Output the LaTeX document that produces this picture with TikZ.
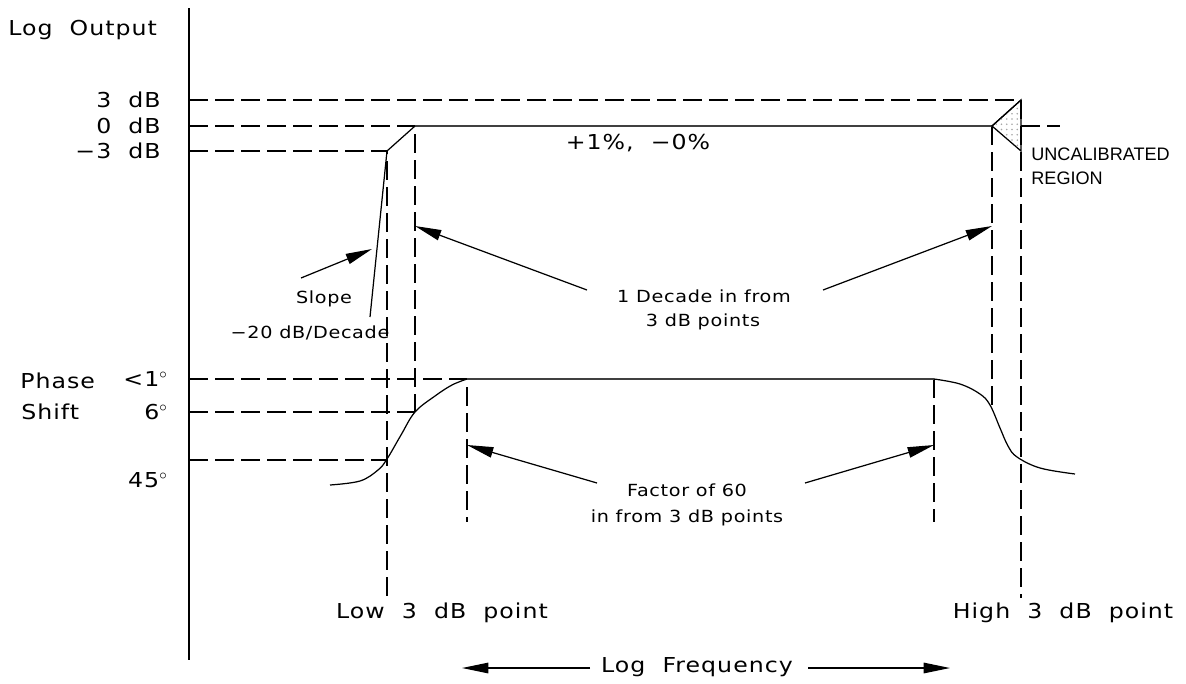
\documentclass[tikz,border=0pt]{standalone}
\usepackage{fontspec}
\newfontfamily\cadfont[FakeStretch=1.15,LetterSpace=5]{DejaVu Sans}
\newfontfamily\cadsmall[FakeStretch=1.15,LetterSpace=4]{DejaVu Sans}
\newfontfamily\notefont{Liberation Sans}
\usetikzlibrary{arrows.meta,patterns}
\tikzset {>={Triangle[length=15pt,width=6pt]}}
\newcommand*{\dg}{$^\circ$}

\begin{document}
\begin{tikzpicture}[x=0.02cm,y=-0.02cm,
  dline/.style={line width=1.3pt,dash pattern=on 10.8pt off 4pt},
  thinline/.style={line width=0.7pt},
  lbl/.style={font=\cadfont\fontsize{11.7}{14}\selectfont,inner sep=0pt},
  small/.style={font=\cadsmall\fontsize{9.5}{11}\selectfont,inner sep=0pt},
  note/.style={font=\notefont\fontsize{10.3}{12}\selectfont,inner sep=0pt,anchor=west}]
\useasboundingbox (0,0) rectangle (1186,683);
% axis
\draw[line width=1.6pt] (189,8) -- (189,660);
% corner points of the response
\coordinate (Lm3) at (387,151);
\coordinate (L0) at (415,126);
\coordinate (H0) at (992,126);
\coordinate (H3) at (1021,100);
\coordinate (Hm3) at (1021,151);
\coordinate (Pl) at (467,379);
\coordinate (Ph) at (934,379);
% level lines
\draw[dline] (189,100) -- (H3) -- (1021,598);
\draw[dline] (189,126) -- (L0) -- (415,412);
\draw[dline] (189,151) -- (Lm3) -- (387,596);
\draw[dline] (H0) -- (992,410);
\draw[dline] (1021,126) -- (1060,126);
\draw[dline] (189,379) -- (Pl) -- (467,522);
\draw[dline] (Ph) -- (934,522);
\draw[dline] (189,412) -- (415,412);
\draw[dline] (189,460) -- (387,460);
% log output
\draw[line width=0.9pt,black!75] (L0) -- (H0);
\draw[thinline] (Lm3) -- (L0) (H0) -- (H3);
\filldraw[thinline,pattern=dots,pattern color=gray!70] (H0) -- (H3) -- (Hm3) -- cycle;
\draw[thinline] (Lm3) -- (370,317);
% phase shift
\draw[thinline] plot[smooth,tension=0.6] coordinates {(330,485) (360,481) (378,470) (387,459) (401,435) (415,412) (435,396) (452,385) (Pl)};
\draw[line width=0.9pt,black!75] (Pl) -- (Ph);
\draw[thinline] plot[smooth,tension=0.6] coordinates {(Ph) (960,384) (980,394) (990,405) (1000,428) (1008,446) (1017,457) (1040,468) (1075,474)};
% labels
\node[lbl,anchor=west] (out) at (8,30) {Log\ \ Output};
\node[lbl,anchor=east] (db3) at (161,100) {3\ \ dB};
\node[lbl,anchor=east] (db0) at (161,126) {0\ \ dB};
\node[lbl,anchor=east] (dbm3) at (161,151) {−3\ \ dB};
\node[lbl] (tol) at (638,143) {+1\%,\ \ −0\%};
\node[note] (unc) at (1031,154) {UNCALIBRATED};
\node[note] (reg) at (1031,178) {REGION};
\node[lbl,anchor=west] (ph) at (20,381) {Phase};
\node[lbl,anchor=west] (sh) at (21,412) {Shift};
\node[lbl,anchor=east] (p1) at (168,379) {<1\dg};
\node[lbl,anchor=east] (p6) at (168,412) {6\dg};
\node[lbl,anchor=east] (p45) at (168,480) {45\dg};
\node[small] (slope) at (324,299) {Slope};
\node[small] (rate) at (310,333) {−20 dB/Decade};
\node[small] (dec) at (704,296) {1 Decade in from};
\node[small] (decb) at (703,322) {3 dB points};
\node[small] (fac) at (687,490) {Factor of 60};
\node[small] (facb) at (687,518) {in from 3 dB points};
\node[lbl] (low) at (442,613) {Low\ \ 3\ \ dB\ \ point};
\node[lbl] (high) at (1063,613) {High\ \ 3\ \ dB\ \ point};
\node[lbl] (freq) at (697,667) {Log\ \ Frequency};
% pointers
\coordinate (sT) at (301,278);
\coordinate (dL) at (587,290);
\coordinate (dR) at (823,290);
\coordinate (fL) at (597,483);
\coordinate (fR) at (805,483);
\draw[thinline,->] (sT) -- (372,249);
\draw[thinline,->] (dL) -- (415,226);
\draw[thinline,->] (dR) -- (992,226);
\draw[thinline,->] (fL) -- (467,445);
\draw[thinline,->] (fR) -- (934,445);
\draw[thinline,->] (590,668) -- (462,668);
\draw[thinline,->] (808,668) -- (950,668);
\end{tikzpicture}
\end{document}
